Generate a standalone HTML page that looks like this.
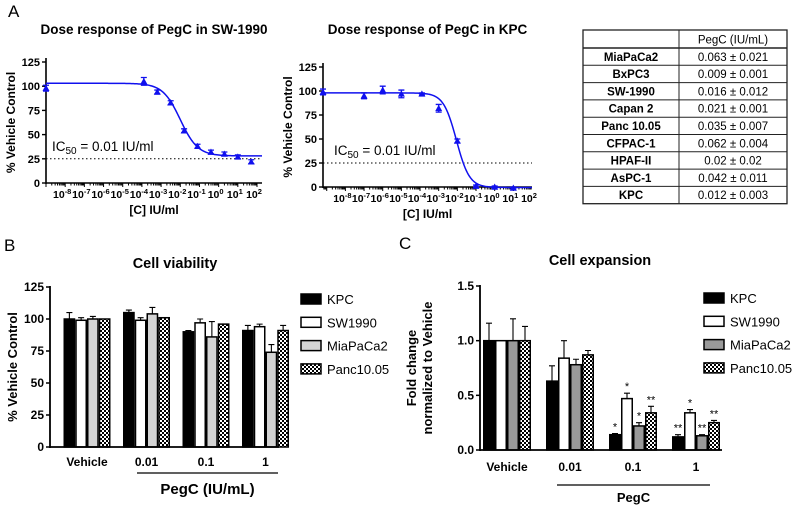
<!DOCTYPE html>
<html><head><meta charset="utf-8">
<style>
html,body{margin:0;padding:0;background:#fff;}
svg{display:block;font-family:"Liberation Sans",Arial,sans-serif;}
</style></head>
<body>
<svg id="fig" width="798" height="508" viewBox="0 0 798 508" xmlns="http://www.w3.org/2000/svg">
<defs>
<pattern id="chk" width="4" height="4" patternUnits="userSpaceOnUse">
<rect width="4" height="4" fill="#000"/><rect x="0" y="0" width="2" height="2" fill="#fff"/><rect x="2" y="2" width="2" height="2" fill="#fff"/>
</pattern>
</defs>
</svg>
<script>
// ---------- Panel A data ----------
const a1LogDose = [-9, -3.9, -3.2, -2.5, -1.8, -1.1, -0.4, 0.3, 1.0, 1.7];
const a1Resp = [98, 105, 94, 83, 54, 38, 32, 30, 27, 22];
const a1ErrHi = [101, 109, 96, 85, 56, 40, 34, 32, 29, 24];
const a1Fit = [103, 28, -2.0, 0.95]; // top, bottom, logIC50, hill
const a2LogDose = [-9.2, -7.0, -6.0, -5.0, -3.9, -3.0, -2.0, -1.0, 0, 1];
const a2Resp = [99, 95, 101, 97, 97, 82, 48, 1, 0, -1];
const a2ErrHi = [102, 98, 105, 101, 98, 86, 50, 2, 1, 0];
const a2Fit = [98, -0.5, -2.05, 1.25];
const aYTicks = [0, 25, 50, 75, 100, 125];
const aXTicks = [-8, -7, -6, -5, -4, -3, -2, -1, 0, 1, 2];
// ---------- Table ----------
const tableCells = ["MiaPaCa2","BxPC3","SW-1990","Capan 2","Panc 10.05","CFPAC-1","HPAF-II","AsPC-1","KPC"];
const tableVals = ["0.063 ± 0.021","0.009 ± 0.001","0.016 ± 0.012","0.021 ± 0.001","0.035 ± 0.007","0.062 ± 0.004","0.02 ± 0.02","0.042 ± 0.011","0.012 ± 0.003"];
// ---------- Panel B/C data ----------
const groups = ["Vehicle", "0.01", "0.1", "1"];
const seriesNames = ["KPC", "SW1990", "MiaPaCa2", "Panc10.05"];
const bKPC = [100, 105, 90, 91];
const bSW = [99, 99, 97, 94];
const bMia = [100, 104, 86, 74];
const bPanc = [100, 101, 96, 91];
const bKPCErr = [5, 2, 1, 4];
const bSWErr = [2, 2, 3, 2];
const bMiaErr = [2, 5, 12, 6];
const bPancErr = [0, 0, 0, 4];
const bYTicks = [0, 25, 50, 75, 100, 125];
const cKPC = [1.0, 0.63, 0.14, 0.12];
const cSW = [1.0, 0.84, 0.47, 0.34];
const cMia = [1.0, 0.78, 0.22, 0.13];
const cPanc = [1.0, 0.87, 0.34, 0.25];
const cKPCErr = [0.16, 0.14, 0.01, 0.02];
const cSWErr = [0, 0.16, 0.05, 0.03];
const cMiaErr = [0.2, 0.05, 0.03, 0.01];
const cPancErr = [0.13, 0.04, 0.06, 0.02];
const cStars = [["", "", "", ""], ["", "", "", ""], ["*", "*", "*", "**"], ["**", "*", "**", "**"]];
const cYTicks = [0, 0.5, 1.0, 1.5];

const svg = document.getElementById('fig');
const NS = 'http://www.w3.org/2000/svg';
function el(tag, attrs, parent, text) {
  const e = document.createElementNS(NS, tag);
  for (const k in attrs) e.setAttribute(k, attrs[k]);
  if (text !== undefined) e.textContent = text;
  (parent || svg).appendChild(e);
  return e;
}
function txt(x, y, s, size, anchor, bold, parent, name) {
  const t = el('text', {x: x, y: y, 'font-size': size, 'text-anchor': anchor || 'start', 'font-weight': bold ? 'bold' : 'normal', fill: '#000'}, parent, s);
  
  
  return t;
}

txt(8, 17, 'A', 17, 'start', false, null, 'panel-a-letter');
txt(4, 251, 'B', 17, 'start', false, null, 'panel-b-letter');
txt(399, 249, 'C', 17, 'start', false, null, 'panel-c-letter');

function dosePanel(cfg) {
  const g = el('g', {});
  
  
  const xS = v => cfg.x0 + (v - cfg.lmin) / (cfg.lmax - cfg.lmin) * (cfg.x1 - cfg.x0);
  const yS = v => cfg.y0 + (v / 125) * (cfg.y125 - cfg.y0);
  txt((cfg.x0 + cfg.x1) / 2, 34, cfg.title, 13.5, 'middle', true, g, 'chart-title');
  const ax = el('path', {d: `M${cfg.x0},${cfg.y125 - 4}V${cfg.y0 + 1}M${cfg.x0},${cfg.y0}H${cfg.x1}`, stroke: '#000', 'stroke-width': 1.6, fill: 'none'}, g);
  
  
  aYTicks.forEach(v => {
    el('line', {x1: cfg.x0 - 4, x2: cfg.x0, y1: yS(v), y2: yS(v), stroke: '#000', 'stroke-width': 1.4}, g);
    txt(cfg.x0 - 6, yS(v) + 4, String(v), 11, 'end', true, g, 'y-tick-label');
  });
  for (let d = Math.floor(cfg.lmin); d < cfg.lmax; d++) {
    for (let m = 1; m < 10; m++) {
      const lv = d + Math.log10(m);
      if (lv < cfg.lmin || lv > cfg.lmax) continue;
      el('line', {x1: xS(lv), x2: xS(lv), y1: cfg.y0, y2: cfg.y0 + (m === 1 ? 4 : 2.5), stroke: '#000', 'stroke-width': 1}, g);
    }
  }
  aXTicks.forEach(v => {
    const t = txt(xS(v), cfg.y0 + 15, '10', 10.5, 'middle', true, g, 'x-tick-label');
    t.setAttribute('dx', '-3');
    el('tspan', {dy: -4, 'font-size': 7.5}, t, String(v));
  });
  txt((cfg.x0 + cfg.x1) / 2, cfg.y0 + 31, '[C] IU/ml', 12, 'middle', true, g, 'x-axis-title');
  const yt = txt(0, 0, '% Vehicle Control', 12, 'middle', true, g, 'y-axis-title');
  yt.setAttribute('transform', `translate(${cfg.x0 - 31},${(cfg.y0 + cfg.y125) / 2}) rotate(-90)`);
  const dl = el('line', {x1: cfg.x0, x2: cfg.x1, y1: yS(25), y2: yS(25), stroke: '#000', 'stroke-width': 1, 'stroke-dasharray': '1.5,2.5'}, g);
  
  
  const ic = txt(cfg.icx, cfg.icy, 'IC', 13.5, 'start', false, g, 'ic50-annotation');
  el('tspan', {dy: 3, 'font-size': 10}, ic, '50');
  el('tspan', {dy: -3}, ic, ' = 0.01 IU/ml');
  const [top, bot, lic, h] = cfg.fit;
  let d = '';
  for (let i = 0; i <= 200; i++) {
    const lv = cfg.lmin + (cfg.lmax - cfg.lmin) * i / 200;
    const yv = bot + (top - bot) / (1 + Math.pow(10, (lv - lic) * h));
    d += (i ? 'L' : 'M') + xS(lv).toFixed(2) + ',' + yS(yv).toFixed(2);
  }
  const c = el('path', {d: d, stroke: '#1010ee', 'stroke-width': 1.5, fill: 'none'}, g);
  
  
  cfg.ld.forEach((lv, i) => {
    const x = xS(lv), y = yS(cfg.r[i]), ye = yS(cfg.e[i]), yl = yS(2 * cfg.r[i] - cfg.e[i]);
    const eb = el('path', {d: `M${x},${ye}V${yl}M${x - 3},${ye}H${x + 3}M${x - 3},${yl}H${x + 3}`, stroke: '#1010ee', 'stroke-width': 1.3, fill: 'none'}, g);
    
    
    const p = el('path', {d: `M${x},${y - 3.5}L${x + 3.5},${y + 2.8}L${x - 3.5},${y + 2.8}Z`, fill: '#1010ee'}, g);
    
    
  });
}
dosePanel({name: 'dose-response-sw1990', title: 'Dose response of PegC in SW-1990', x0: 46, x1: 262, lmin: -9, lmax: 2.26, y0: 183, y125: 62, fit: a1Fit, ld: a1LogDose, r: a1Resp, e: a1ErrHi, icx: 52, icy: 151});
dosePanel({name: 'dose-response-kpc', title: 'Dose response of PegC in KPC', x0: 323, x1: 532, lmin: -9.2, lmax: 2, y0: 187, y125: 67, fit: a2Fit, ld: a2LogDose, r: a2Resp, e: a2ErrHi, icx: 334, icy: 155});

(function () {
  const g = el('g', {});
  
  
  const L = 583, R = 787, M = 679, T = 30, H0 = 18, rh = 17.3;
  const bottom = T + H0 + rh * tableCells.length;
  el('rect', {x: L, y: T, width: R - L, height: bottom - T, fill: '#fff', stroke: '#222', 'stroke-width': 1.3}, g);
  el('line', {x1: M, x2: M, y1: T, y2: bottom, stroke: '#222', 'stroke-width': 1}, g);
  el('line', {x1: L, x2: R, y1: T + H0, y2: T + H0, stroke: '#222', 'stroke-width': 1.5}, g);
  txt((M + R) / 2, T + 13.5, 'PegC (IU/mL)', 11.5, 'middle', false, g, 'table-header');
  tableCells.forEach((n, i) => {
    const y = T + H0 + rh * (i + 1);
    if (i < tableCells.length - 1) el('line', {x1: L, x2: R, y1: y, y2: y, stroke: '#222', 'stroke-width': 1}, g);
    txt((L + M) / 2, y - 4.5, n, 11.5, 'middle', true, g, 'table-cell-line');
    txt((M + R) / 2, y - 4.5, tableVals[i], 11.5, 'middle', false, g, 'table-cell-value');
  });
})();

const fills = ['#000', '#fff', null, 'url(#chk)'];
function barPanel(cfg) {
  const g = el('g', {});
  
  
  const yS = v => cfg.y0 + v / cfg.ymax * (cfg.ytop - cfg.y0);
  txt(cfg.titleX, cfg.titleY, cfg.title, 14.5, 'middle', true, g, 'chart-title');
  const bw = cfg.gw / 4;
  cfg.series.forEach((vals, s) => {
    vals.forEach((v, gi) => {
      const cx = cfg.gx[0] + gi * cfg.gs;
      const x = cx - cfg.gw / 2 + s * bw;
      const ev = v + cfg.errs[s][gi];
      const mx = x + bw / 2;
      if (cfg.errs[s][gi] > 0) {
        const e = el('path', {d: `M${mx},${yS(v)}V${yS(ev)}M${mx - 3},${yS(ev)}H${mx + 3}`, stroke: '#000', 'stroke-width': 1.1, fill: 'none'}, g);
        
        
      }
      const r = el('rect', {x: x + 0.75, y: yS(v), width: bw - 1.5, height: cfg.y0 - yS(v), fill: fills[s] || cfg.gray, stroke: '#000', 'stroke-width': 1.5}, g);
      
      
      if (cfg.stars && cfg.stars[gi][s]) txt(mx, yS(ev) - 3, cfg.stars[gi][s], 11, 'middle', false, g, 'significance-star');
    });
  });
  const ax = el('path', {d: `M${cfg.x0},${cfg.ytop - 1}V${cfg.y0 + 1}M${cfg.x0},${cfg.y0}H${cfg.x1}`, stroke: '#000', 'stroke-width': 1.8, fill: 'none'}, g);
  
  
  cfg.yticks.forEach(v => {
    el('line', {x1: cfg.x0 - 4, x2: cfg.x0, y1: yS(v), y2: yS(v), stroke: '#000', 'stroke-width': 1.5}, g);
    txt(cfg.x0 - 6, yS(v) + 4, cfg.fmt(v), 12, 'end', true, g, 'y-tick-label');
  });
  groups.forEach((n, gi) => txt(cfg.gx[0] + gi * cfg.gs, cfg.xlY, n, 12, 'middle', true, g, 'x-tick-label'));
  el('line', {x1: cfg.lineX[0], x2: cfg.lineX[1], y1: cfg.lineY, y2: cfg.lineY, stroke: '#000', 'stroke-width': 1.2}, g);
  txt((cfg.lineX[0] + cfg.lineX[1]) / 2, cfg.lineY + cfg.grpDy, cfg.grpLabel, cfg.grpSize, 'middle', true, g, 'x-axis-title');
  cfg.ytitle.forEach((s, i) => {
    const t = txt(0, 0, s, 13, 'middle', true, g, 'y-axis-title');
    t.setAttribute('transform', `translate(${cfg.ytX + i * 16},${(cfg.y0 + cfg.ytop) / 2}) rotate(-90)`);
  });
  seriesNames.forEach((n, s) => {
    const y = cfg.legY + s * 23.3;
    const r = el('rect', {x: cfg.legX, y: y - 5, width: 20, height: 10, fill: fills[s] || cfg.gray, stroke: '#000', 'stroke-width': 1.5}, g);
    
    
    txt(cfg.legX + 26, y + 5, n, 13, 'start', false, g, 'legend-entry');
  });
}
barPanel({name: 'cell-viability-chart', title: 'Cell viability', titleX: 175, titleY: 268, x0: 50, x1: 279, y0: 447, ytop: 287, ymax: 125,
  gx: [87], gs: 59.5, gw: 47, series: [bKPC, bSW, bMia, bPanc], errs: [bKPCErr, bSWErr, bMiaErr, bPancErr], gray: '#d4d4d4',
  yticks: bYTicks, fmt: v => String(v), xlY: 466, lineX: [137, 278], lineY: 473, grpLabel: 'PegC (IU/mL)', grpDy: 21, grpSize: 15,
  ytitle: ['% Vehicle Control'], ytX: 17, legX: 301, legY: 299});
barPanel({name: 'cell-expansion-chart', title: 'Cell expansion', titleX: 600, titleY: 265, x0: 480, x1: 722, y0: 450, ytop: 286, ymax: 1.5,
  gx: [507], gs: 63, gw: 48, series: [cKPC, cSW, cMia, cPanc], errs: [cKPCErr, cSWErr, cMiaErr, cPancErr], gray: '#9a9a9a', stars: cStars,
  yticks: cYTicks, fmt: v => v.toFixed(1), xlY: 471, lineX: [557, 710], lineY: 485, grpLabel: 'PegC', grpDy: 17, grpSize: 13,
  ytitle: ['Fold change', 'normalized to Vehicle'], ytX: 416, legX: 704, legY: 298});
</script>
</body></html>
